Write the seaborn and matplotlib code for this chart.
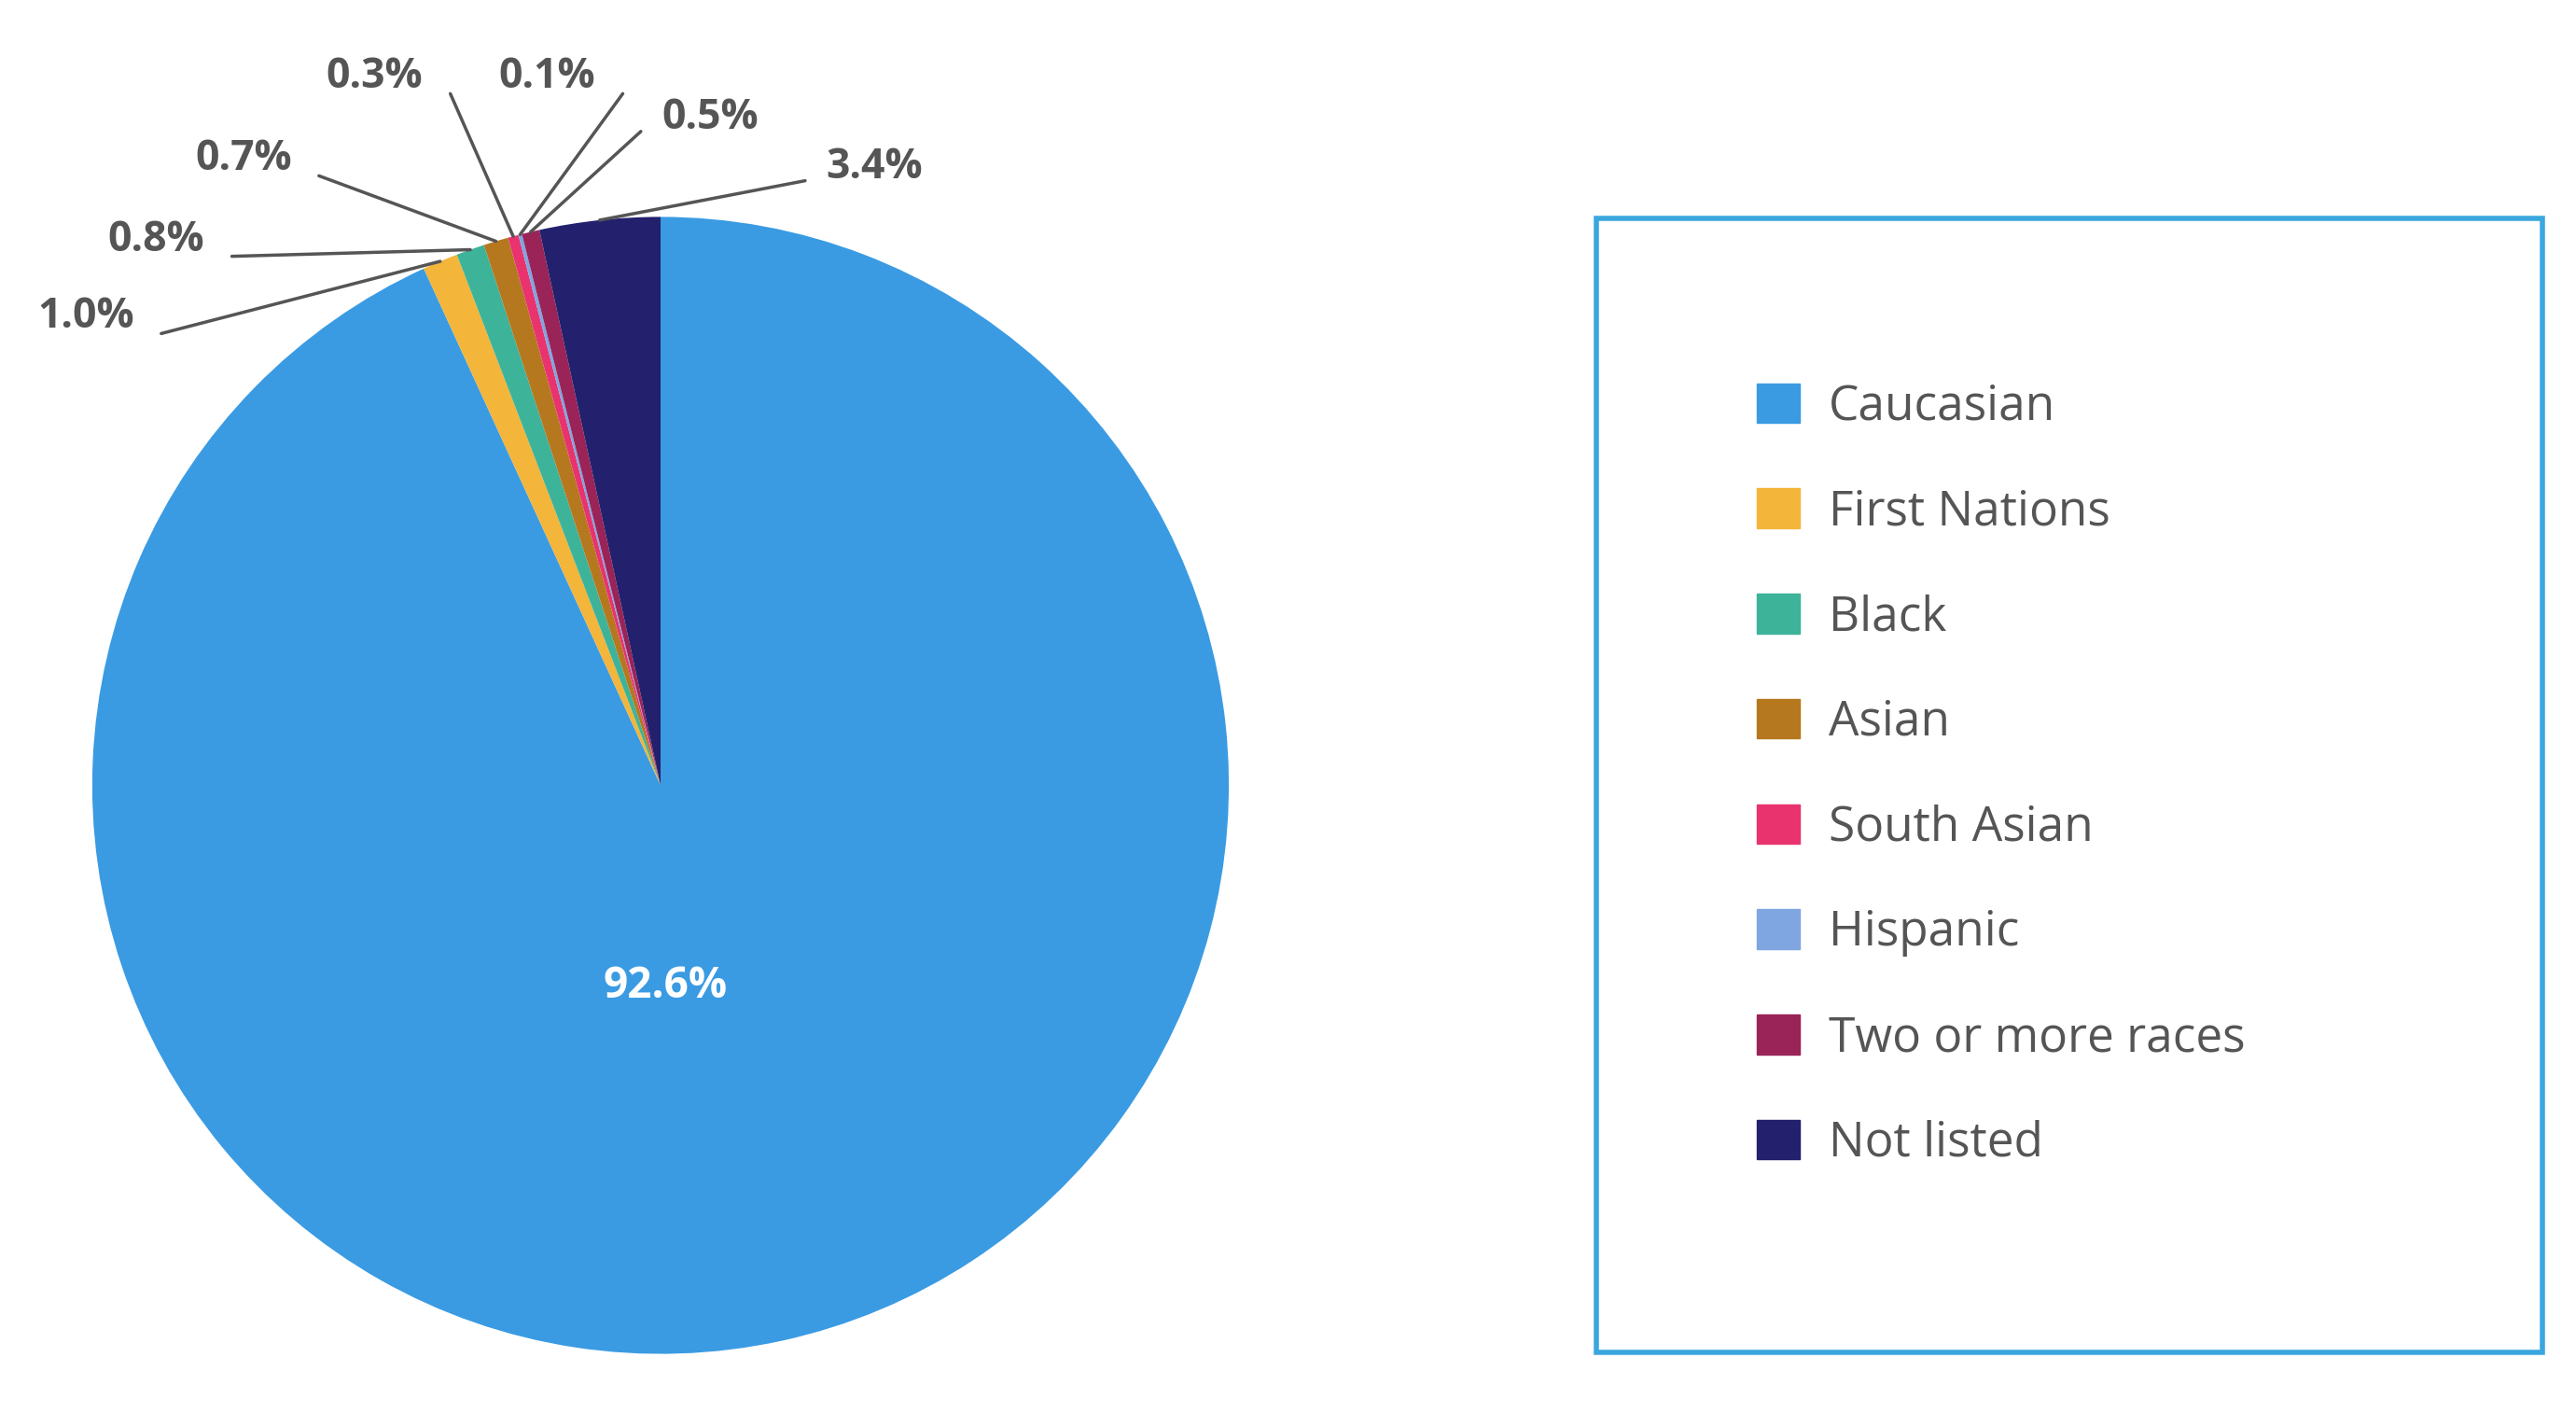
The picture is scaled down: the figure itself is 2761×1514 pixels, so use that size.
import matplotlib
matplotlib.use("Agg")
import matplotlib.pyplot as plt
import seaborn as sns
import numpy as np
from matplotlib.patches import Rectangle

sns.set_theme(style="white")
plt.rcParams['font.family'] = ['Open Sans', 'DejaVu Sans']

categories = ["Caucasian", "First Nations", "Black", "Asian", "South Asian",
              "Hispanic", "Two or more races", "Not listed"]
values = [92.6, 1.0, 0.8, 0.7, 0.3, 0.1, 0.5, 3.4]
labels = ["92.6%", "1.0%", "0.8%", "0.7%", "0.3%", "0.1%", "0.5%", "3.4%"]
colors = ["#3a9be3", "#f3b53a", "#3db39a", "#b5781f", "#e8336f",
          "#7fa6e0", "#9a2357", "#23206e"]

W, H = 1568, 860
fig = plt.figure(figsize=(27.61, 15.14), dpi=100)
ax = fig.add_axes([0, 0, 1, 1])

cx, cy, r = 402, H - 478, 346
wedges, _ = ax.pie(values, colors=colors, startangle=90, counterclock=False,
                   center=(cx, cy), radius=r, frame=True,
                   wedgeprops=dict(linewidth=0))
ax.set_xlim(0, W); ax.set_ylim(0, H); ax.set_aspect("equal"); ax.axis("off")

ax.text(405, H - 600, labels[0], color="white", fontsize=33, fontweight="bold",
        ha="center", va="center")

txt_pos = [(52, 193), (95, 146), (148, 97), (228, 47), (333, 47), (432, 72), (532, 102)]
for i, (w, (tx, ty)) in enumerate(zip(wedges[1:], txt_pos)):
    ang = np.deg2rad((w.theta1 + w.theta2) / 2)
    ex, ey = cx + r * np.cos(ang), cy + r * np.sin(ang)
    ty2 = H - ty
    if tx < 400:
        sx, sy = tx + 46, ty2 - 10
    else:
        sx, sy = tx - 42, ty2 - 8
    ax.plot([sx, ex], [sy, ey], color="#555555", lw=2.5)
    ax.text(tx, ty2, labels[i + 1], color="#555555", fontsize=32, fontweight="bold",
            ha="center", va="center")

ax.add_patch(Rectangle((972, H - 823), 576, 690, fill=False, edgecolor="#3aa7de", lw=4))
handles = [Rectangle((0, 0), 1, 1, color=c) for c in colors]
ax.legend(handles, categories, loc="upper left", bbox_to_anchor=(1043 / W, (H - 207) / H),
          frameon=False, fontsize=37, labelcolor="#555555", handlelength=0.9,
          handleheight=0.9, labelspacing=1.2, handletextpad=0.6)

fig.savefig("out.png", dpi=100, facecolor="white")
